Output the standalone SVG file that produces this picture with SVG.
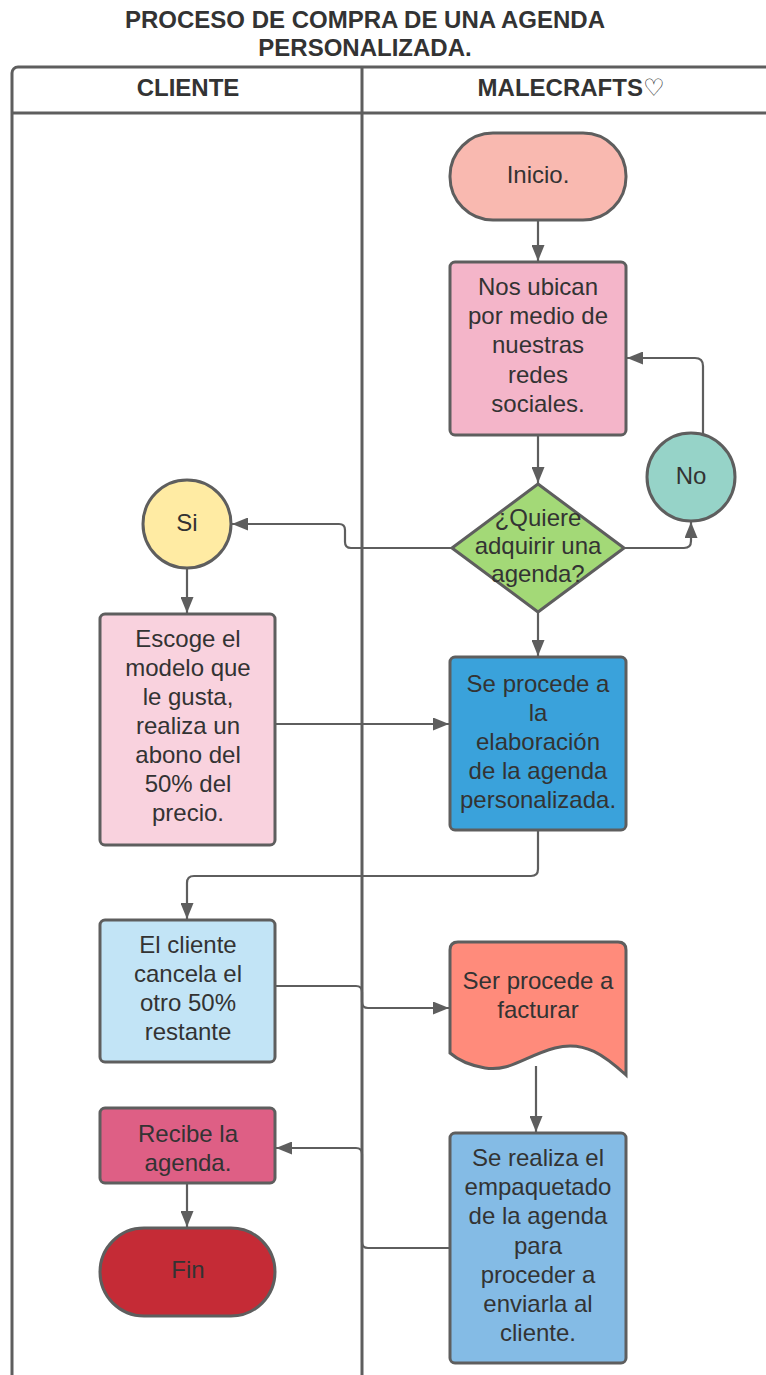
<svg xmlns="http://www.w3.org/2000/svg" width="766" height="1375" viewBox="0 0 766 1375">
<style>
.t{font-family:"Liberation Sans",Arial,sans-serif;font-size:24px;fill:#333;text-anchor:middle}
.h{font-family:"Liberation Sans",Arial,"DejaVu Sans",sans-serif;font-size:24px;font-weight:bold;fill:#333;text-anchor:middle}
.n{stroke:#5e5e5e;stroke-width:3}
.c{fill:none;stroke:#5e5e5e;stroke-width:2.2}
.a{marker-end:url(#ah)}
.lane{fill:none;stroke:#5e5e5e;stroke-width:3}
</style>
<defs>
<marker id="ah" viewBox="0 0 16 13" refX="16" refY="6.5" markerWidth="16" markerHeight="13" orient="auto" markerUnits="userSpaceOnUse"><path d="M0,0 L16,6.5 L0,13 z" fill="#5e5e5e"/></marker>
</defs>
<rect width="766" height="1375" fill="#fff"/>
<g id="title">
<text class="h" x="365" y="28">PROCESO DE COMPRA DE UNA AGENDA</text>
<text class="h" x="365" y="56">PERSONALIZADA.</text>
</g>
<g id="pool">
<rect class="lane" x="12" y="67" width="790" height="1350" rx="6"/>
<line class="lane" x1="12" y1="113" x2="780" y2="113"/>
<line class="lane" x1="362" y1="67" x2="362" y2="1380"/>
<text class="h" x="188" y="96">CLIENTE</text>
<text class="h" x="571" y="96">MALECRAFTS♡</text>
</g>
<g id="connectors">
<path class="c a" d="M538,221 V261"/>
<path class="c a" d="M538,436 V483"/>
<path class="c a" d="M703,434 V366 Q703,358 695,358 H627"/>
<path class="c a" d="M624,548 H684 Q691,548 691,541 V522"/>
<path class="c a" d="M452,548 H351 Q345,548 345,542 V530 Q345,524 339,524 H232"/>
<path class="c a" d="M187,569 V613"/>
<path class="c a" d="M276,724 H449"/>
<path class="c a" d="M538,613 V656"/>
<path class="c a" d="M538,831 V869 Q538,876 531,876 H194 Q187,876 187,883 V919"/>
<path class="c a" d="M276,986 H356 Q362,986 362,992 V1002 Q362,1008 368,1008 H449"/>
<path class="c a" d="M536,1066 V1132"/>
<path class="c a" d="M450,1248 H368 Q362,1248 362,1242 V1154 Q362,1148 356,1148 H276"/>
<path class="c a" d="M187,1184 V1227"/>
</g>
<g id="inicio">
<rect class="n" x="450" y="133" width="176" height="87" rx="43" fill="#F9B9B0"/>
<text class="t" x="538" y="183">Inicio.</text>
</g>
<g id="nos-ubican">
<rect class="n" x="450" y="262" width="176" height="173" rx="5" fill="#F4B5C9"/>
<text class="t" x="538" y="295">Nos ubican</text>
<text class="t" x="538" y="324">por medio de</text>
<text class="t" x="538" y="353">nuestras</text>
<text class="t" x="538" y="383">redes</text>
<text class="t" x="538" y="412">sociales.</text>
</g>
<g id="decision">
<path class="n" d="M538,484 L624,548 L538,612 L452,548 Z" stroke-linejoin="round" fill="#A3D977"/>
<text class="t" x="538" y="526">¿Quiere</text>
<text class="t" x="538" y="554">adquirir una</text>
<text class="t" x="538" y="582">agenda?</text>
</g>
<g id="no">
<ellipse class="n" cx="691" cy="477" rx="44" ry="44" fill="#96D3C8"/>
<text class="t" x="691" y="484">No</text>
</g>
<g id="si">
<ellipse class="n" cx="187" cy="524" rx="44" ry="44" fill="#FFEBA3"/>
<text class="t" x="187" y="531">Si</text>
</g>
<g id="escoge">
<rect class="n" x="100" y="614" width="175" height="231" rx="5" fill="#F9D2DE"/>
<text class="t" x="188" y="647">Escoge el</text>
<text class="t" x="188" y="676">modelo que</text>
<text class="t" x="188" y="705">le gusta,</text>
<text class="t" x="188" y="734">realiza un</text>
<text class="t" x="188" y="763">abono del</text>
<text class="t" x="188" y="792">50% del</text>
<text class="t" x="188" y="821">precio.</text>
</g>
<g id="elaboracion">
<rect class="n" x="450" y="657" width="176" height="173" rx="5" fill="#3AA2DB"/>
<text class="t" x="538" y="692">Se procede a</text>
<text class="t" x="538" y="721">la</text>
<text class="t" x="538" y="750">elaboración</text>
<text class="t" x="538" y="779">de la agenda</text>
<text class="t" x="538" y="808">personalizada.</text>
</g>
<g id="cancela">
<rect class="n" x="100" y="920" width="175" height="142" rx="5" fill="#C2E4F6"/>
<text class="t" x="188" y="953">El cliente</text>
<text class="t" x="188" y="982">cancela el</text>
<text class="t" x="188" y="1011">otro 50%</text>
<text class="t" x="188" y="1040">restante</text>
</g>
<g id="facturar">
<path class="n" d="M450,950 Q450,942 458,942 H618 Q626,942 626,950 V1075 C605,1056 585,1040 555,1048 C525,1056 510,1072 485,1068 C468,1065 458,1060 450,1053 Z" fill="#FF8B7B"/>
<text class="t" x="538" y="989">Ser procede a</text>
<text class="t" x="538" y="1018">facturar</text>
</g>
<g id="recibe">
<rect class="n" x="100" y="1108" width="175" height="75" rx="5" fill="#DE5F85"/>
<text class="t" x="188" y="1142">Recibe la</text>
<text class="t" x="188" y="1171">agenda.</text>
</g>
<g id="fin">
<rect class="n" x="100" y="1228" width="175" height="88" rx="44" fill="#C52B36"/>
<text class="t" x="188" y="1278">Fin</text>
</g>
<g id="empaquetado">
<rect class="n" x="450" y="1133" width="176" height="230" rx="5" fill="#84BBE5"/>
<text class="t" x="538" y="1166">Se realiza el</text>
<text class="t" x="538" y="1195">empaquetado</text>
<text class="t" x="538" y="1224">de la agenda</text>
<text class="t" x="538" y="1254">para</text>
<text class="t" x="538" y="1283">proceder a</text>
<text class="t" x="538" y="1312">enviarla al</text>
<text class="t" x="538" y="1341">cliente.</text>
</g>
</svg>
